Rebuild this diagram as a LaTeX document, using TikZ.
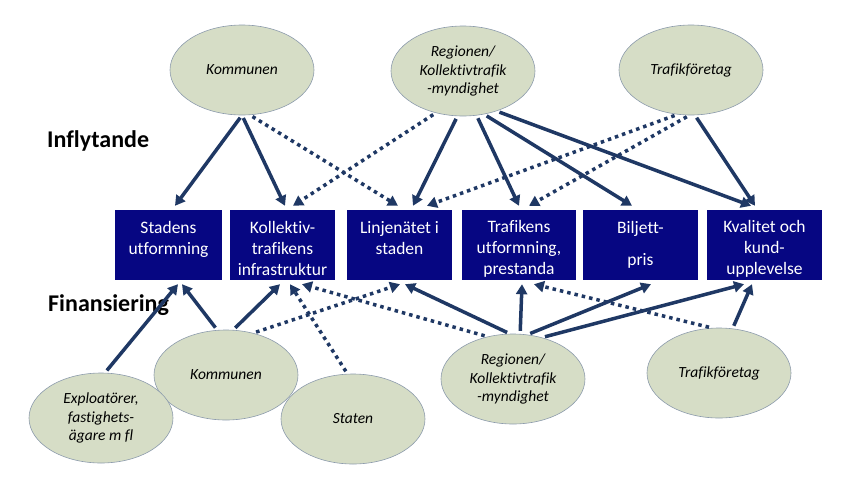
\documentclass[tikz,border=0pt]{standalone}
\usepackage{fontspec}
\setmainfont{Carlito}[Ligatures=NoCommon]
\usetikzlibrary{shapes.geometric,arrows.meta}
\definecolor{boxblue}{RGB}{6,6,130}
\definecolor{sage}{RGB}{214,221,198}
\definecolor{arrowblue}{RGB}{31,56,100}
\definecolor{rimgray}{RGB}{140,155,172}

\begin{document}
\begin{tikzpicture}[x=1pt,y=-1pt,
	actor/.style={ellipse,draw=rimgray,line width=0.6pt,fill=sage,minimum width=144pt,minimum height=90pt,inner sep=0pt,align=center,font=\fontsize{15.5}{18.5}\selectfont\itshape},
	area/.style={fill=boxblue,text=white,minimum width=#1,minimum height=70pt,inner sep=0pt,align=center,font=\fontsize{17.5}{21}\selectfont,execute at begin node={\rule{0pt}{61pt}}},
	heading/.style={anchor=base west,inner sep=0pt,font=\fontsize{24}{28}\selectfont\bfseries},
	flow/.style={arrowblue,line width=3.5pt,-{Triangle[length=10pt,width=11pt]},shorten <=3pt},
	weak/.style={flow,dash pattern=on 3.5pt off 4pt}]
	\path[use as bounding box] (0,0) rectangle (848,482);
	
	\node[heading] (infl) at (47,147) {Inflytande};
	\node[heading] (fin) at (48,311) {Finansiering};
	
	% actors, upper row
	\node[actor] (k1) at (242,70) {Kommunen};
	\node[actor] (r1) at (463,71) {Regionen/\\Kollektivtrafik\\-myndighet};
	\node[actor] (t1) at (691,70) {Trafikföretag};
	
	% actors, lower row
	\node[actor] (k2) at (226,375) {Kommunen};
	\node[actor] (e2) at (101,418) {Exploatörer,\\fastighets-\\ägare m fl};
	\node[actor] (s2) at (353,419) {Staten};
	\node[actor] (r2) at (513,379) {Regionen/\\Kollektivtrafik\\-myndighet};
	\node[actor] (t2) at (719,373) {Trafikföretag};
	
	% areas
	\node[area=107pt] (b1) at (168.5,245) {Stadens\\utformning\\\mbox{}};
	\node[area=105pt] (b2) at (282.5,245) {Kollektiv-\\trafikens\\infrastruktur};
	\node[area=105pt] (b3) at (399.5,245) {Linjenätet i\\staden\\\mbox{}};
	\node[area=114pt] (b4) at (519,245) {Trafikens\\utformning,\\prestanda};
	\node[area=115pt] (b5) at (640.5,245) {Biljett-\\[10.5pt]pris\\[-10.5pt]\mbox{}};
	\node[area=115pt] (b6) at (764.5,245) {Kvalitet och\\kund-\\upplevelse};
	
	% influence
	\foreach \s/\a/\t/\d in {k1/-90/b1/6.5,k1/-90/b2/2.5,r1/-97/b3/13.5,r1/-73/b4/0,r1/-64/b5/-8.5,r1/-50/b6/-13.5,t1/-85/b6/-9.5}
	\draw[flow] (\s.\a) -- ([xshift=\d pt,yshift=4pt]\t.north);
	\foreach \s/\a/\t/\d in {k1/-80/b3/-1.5,r1/-123/b2/10.5,t1/-107/b3/27.5,t1/-92/b4/10}
	\draw[weak] (\s.\a) -- ([xshift=\d pt,yshift=4pt]\t.north);
	
	% financing
	\foreach \s/\a/\t/\d in {e2/85/b1/9.5,k2/101/b1/13.5,k2/81/b2/-2.5,r2/94/b3/5.5,r2/81/b4/3,r2/72/b5/10.5,r2/55/b6/-20.5,t2/73/b6/-12.5}
	\draw[flow] (\s.\a) -- ([xshift=\d pt,yshift=-4pt]\t.south);
	\foreach \s/\a/\t/\d in {k2/57/b3/0.5,s2/97/b2/7.5,r2/121/b2/19.5,t2/99/b4/15}
	\draw[weak] (\s.\a) -- ([xshift=\d pt,yshift=-4pt]\t.south);
\end{tikzpicture}
\end{document}
